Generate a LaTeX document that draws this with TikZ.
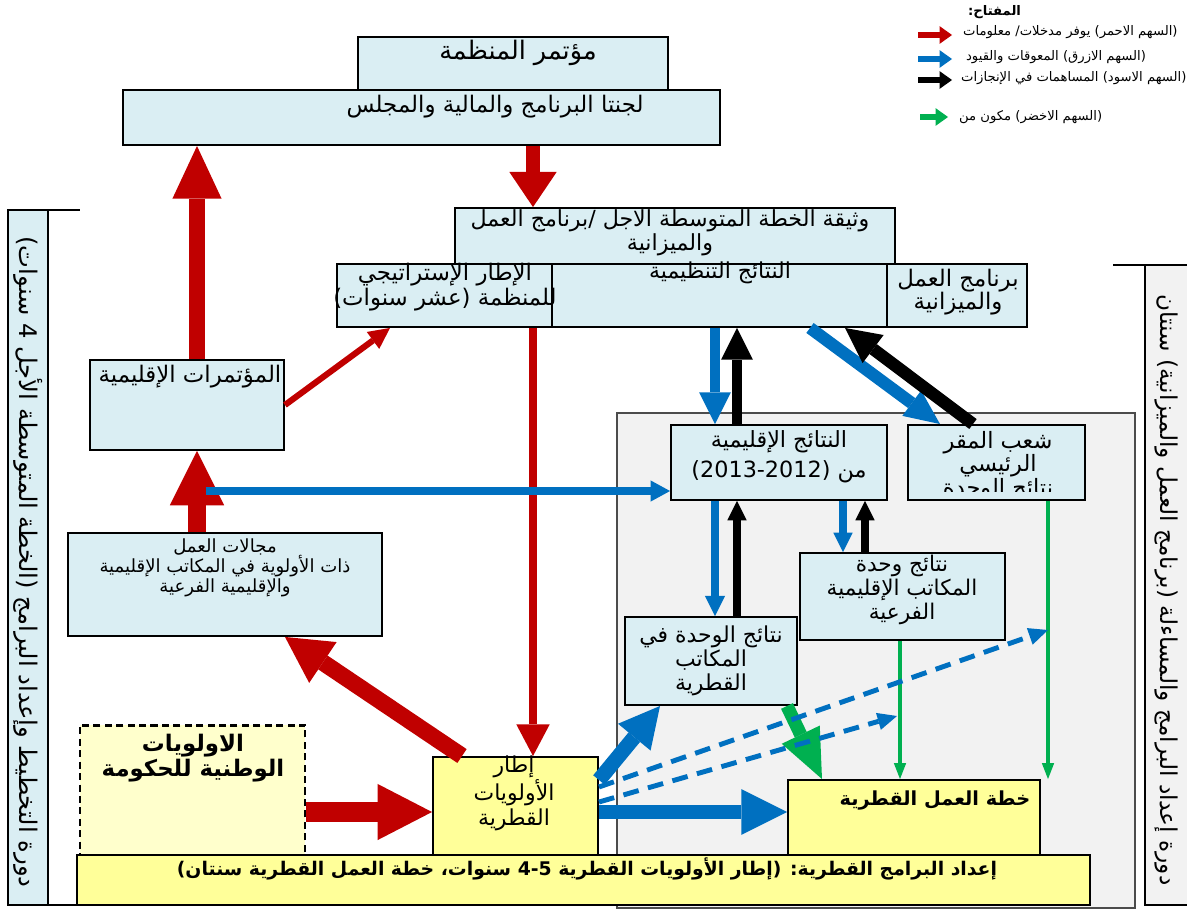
\documentclass[tikz,border=0pt]{standalone}
\usepackage{fontspec}
\setmainfont{DejaVu Sans}[Script=Arabic]
\TeXXeTstate=1
\usetikzlibrary{arrows.meta,fit}
\definecolor{boxblue}{HTML}{DAEEF3}
\definecolor{panelgray}{HTML}{F2F2F2}
\definecolor{boxyellow}{HTML}{FFFF99}
\definecolor{paleyellow}{HTML}{FFFFCC}
\definecolor{faored}{HTML}{C00000}
\definecolor{faoblue}{HTML}{0070C0}
\definecolor{faogreen}{HTML}{00B050}
\newcommand{\rtl}[1]{\beginR #1\endR}

\begin{document}
\begin{tikzpicture}[x=0.02cm, y=-0.02cm,
  box/.style={draw, line width=1.1pt, fill=boxblue, inner sep=0pt},
  ybox/.style={draw, line width=1.1pt, fill=boxyellow, inner sep=0pt},
  txt/.style={align=center, inner sep=1pt, font=\fontsize{12.5}{14}\selectfont},
  legtxt/.style={anchor=west, inner sep=1pt, font=\fontsize{7.5}{9}\selectfont},
  arr/.style n args={3}{line width=#1, -{Triangle[length=#2, width=#3, line width=0pt]}}]
  \useasboundingbox (0,0) rectangle (1187,910);

  % side bands
  \node[draw, line width=1pt, fill=panelgray, inner sep=0pt, fit={(1145,265) (1195,905)}] (rband) {};
  \draw[line width=1pt] (1113,265) -- (1187,265);
  \node[draw, line width=1pt, fill=boxblue, inner sep=0pt, fit={(8,210) (48,905)}] (lband) {};
  \draw[line width=1pt] (8,210) -- (80,210);
  \draw[line width=1pt] (8,905) -- (80,905);
  \node[txt, rotate=-90, font=\fontsize{13.8}{15}\selectfont] (lband-t) at (28,562)
    {\rtl{دورة التخطيط وإعداد البرامج (الخطة المتوسطة الأجل 4 سنوات)}};
  \node[txt, rotate=-90, font=\fontsize{13.2}{15}\selectfont] (rband-t) at (1166,590)
    {\rtl{دورة إعداد البرامج والمساءلة (برنامج العمل والميزانية) سنتان}};

  % grey panel
  \node[draw=black!70, line width=0.8pt, fill=panelgray, inner sep=0pt, fit={(617,413) (1135,908)}] (panel) {};

  % top boxes
  \node[box, fit={(358,37) (668,98)}] (conf) {};
  \node[box, fit={(123,90) (720,145)}] (com) {};
  \node[txt, font=\fontsize{14.5}{16}\selectfont] (conf-t) at (518,53) {\rtl{مؤتمر المنظمة}};
  \node[txt, font=\fontsize{13}{15}\selectfont] (com-t) at (495,107) {\rtl{لجنتا البرنامج والمالية والمجلس}};

  \node[box, fit={(455,208) (895,265)}] (mtp) {};
  \node[txt, font=\fontsize{12.6}{13.5}\selectfont] (mtp-t) at (670,233)
    {\rtl{وثيقة الخطة المتوسطة الاجل /برنامج العمل}\\\rtl{والميزانية}};
  \node[box, fit={(337,264) (552,327)}] (sf) {};
  \node[box, fit={(552,264) (887,327)}] (orgres) {};
  \node[box, fit={(887,264) (1027,327)}] (pwb) {};
  \node[txt, font=\fontsize{13}{14}\selectfont] (sf-t) at (445,287) {\rtl{الإطار الإستراتيجي}\\\rtl{للمنظمة (عشر سنوات)}};
  \node[txt] (orgres-t) at (720,273) {\rtl{النتائج التنظيمية}};
  \node[txt, font=\fontsize{13}{13.5}\selectfont] (pwb-t) at (958,292) {\rtl{برنامج العمل}\\\rtl{والميزانية}};

  % left column
  \node[box, fit={(90,360) (284,450)}] (rc) {};
  \node[txt, font=\fontsize{13}{15}\selectfont] (rc-t) at (190,377) {\rtl{المؤتمرات الإقليمية}};
  \node[box, fit={(68,533) (382,636)}] (pa) {};
  \node[txt, font=\fontsize{10.3}{11.5}\selectfont] (pa-t) at (225,568)
    {\rtl{مجالات العمل}\\\rtl{ذات الأولوية في المكاتب الإقليمية}\\\rtl{والإقليمية الفرعية}};

  % results inside the panel
  \node[box, fit={(671,425) (887,500)}] (regres) {};
  \node[txt, font=\fontsize{12.7}{17}\selectfont] (regres-t) at (779,457) {\rtl{النتائج الإقليمية}\\\rtl{من \beginL(2013-2012)\endL}};
  \node[box, fit={(908,425) (1085,500)}] (hq) {};
  \begin{scope}
    \clip (908,425) rectangle (1085,491);
    \node[txt, font=\fontsize{12.8}{13.5}\selectfont] (hq-t) at (998,466) {\rtl{شعب المقر}\\\rtl{الرئيسي}\\\rtl{نتائج الوحدة}};
  \end{scope}
  \node[box, fit={(800,553) (1005,640)}] (sro) {};
  \node[txt, font=\fontsize{12.3}{13.5}\selectfont] (sro-t) at (902,590) {\rtl{نتائج وحدة}\\\rtl{المكاتب الإقليمية}\\\rtl{الفرعية}};
  \node[box, fit={(625,617) (797,705)}] (co) {};
  \node[txt, font=\fontsize{12.5}{13.5}\selectfont] (co-t) at (711,661) {\rtl{نتائج الوحدة في}\\\rtl{المكاتب}\\\rtl{القطرية}};

  % country level
  \node[draw, dashed, dash pattern=on 4pt off 2.5pt, line width=1.7pt, fill=paleyellow, inner sep=0pt,
        fit={(80,725) (305,855)}] (np) {};
  \node[txt, font=\bfseries\fontsize{13}{14.5}\selectfont] (np-t) at (193,758) {\rtl{الاولويات}\\\rtl{الوطنية للحكومة}};
  \node[ybox, fit={(433,757) (598,855)}] (cpf) {};
  \node[txt, font=\fontsize{12.5}{14}\selectfont] (cpf-t) at (514,793) {\rtl{إطار}\\\rtl{الأولويات}\\\rtl{القطرية}};
  \node[ybox, fit={(788,780) (1040,855)}] (cwp) {};
  \node[txt, font=\bfseries\fontsize{11}{14}\selectfont] (cwp-t) at (935,801) {\rtl{خطة العمل القطرية}};
  \node[ybox, fit={(77,855) (1090,905)}] (band) {};
  \node[txt, font=\bfseries\fontsize{10.7}{14}\selectfont] (band-t) at (587,869)
    {\rtl{إعداد البرامج القطرية: (إطار الأولويات القطرية \beginL4-5\endL{} سنوات، خطة العمل القطرية سنتان)}};

  \coordinate (bstart) at (206,491);
  \coordinate (g1) at (1048,630);
  \coordinate (g2) at (897,716);

  % red arrows
  \draw[faored, arr={7.5pt}{20pt}{27pt}] (com.south -| 533,0) -- (mtp.north -| 533,0);
  \draw[faored, arr={9pt}{30pt}{28pt}] (rc.north -| 197,0) -- (com.south -| 197,0);
  \draw[faored, arr={10pt}{31pt}{31pt}] (pa.north -| 197,0) -- (rc.south -| 197,0);
  \draw[faored, arr={3.5pt}{12pt}{12pt}] (rc.east) -- (sf.south -| 390,0);
  \draw[faored, arr={4pt}{18pt}{19pt}] (sf.south -| 533,0) -- (cpf.north -| 533,0);
  \draw[faored, arr={9.5pt}{26pt}{28pt}] (cpf.north -| 462,0) -- (pa.south -| 285,0);
  \draw[faored, arr={11pt}{31pt}{32pt}] (np.east |- 0,812) -- (cpf.west |- 0,812);

  % blue and black arrows
  \draw[faoblue, arr={4pt}{11pt}{12pt}] (bstart) -- (regres.west |- bstart);
  \draw[faoblue, arr={5.7pt}{18pt}{18pt}] (orgres.south -| 715,0) -- (regres.north -| 715,0);
  \draw[arr={5.7pt}{18pt}{18pt}] (regres.north -| 737,0) -- (orgres.south -| 737,0);
  \draw[faoblue, arr={7pt}{20pt}{18pt}] (orgres.south -| 810,0) -- (hq.north -| 940,0);
  \draw[arr={7pt}{20pt}{20pt}] (hq.north -| 973,0) -- (orgres.south -| 845,0);
  \draw[faoblue, arr={4pt}{11.5pt}{11.5pt}] (regres.south -| 715,0) -- (co.north -| 715,0);
  \draw[arr={4.2pt}{11pt}{11pt}] (co.north -| 737,0) -- (regres.south -| 737,0);
  \draw[faoblue, arr={4pt}{11pt}{11pt}] (regres.south -| 843,0) -- (sro.north -| 843,0);
  \draw[arr={4pt}{11pt}{11pt}] (sro.north -| 865,0) -- (regres.south -| 865,0);

  % green arrows
  \draw[faogreen, arr={2pt}{9pt}{7pt}] (hq.south -| 1048,0) -- (cwp.north -| 1048,0);
  \draw[faogreen, arr={2pt}{9pt}{7pt}] (sro.south -| 900,0) -- (cwp.north -| 900,0);
  \draw[faogreen, arr={7.5pt}{28pt}{24pt}] (co.south -| 787,0) -- (cwp.north -| 822,0);

  \draw[faoblue, arr={8.5pt}{23pt}{24pt}] (cpf.east |- 0,780) -- (co.south -| 660,0);
  \draw[faoblue, arr={7.5pt}{26pt}{26pt}] (cpf.east |- 0,812) -- (cwp.west |- 0,812);
  \draw[faoblue, dash pattern=on 9pt off 5.5pt, arr={2.8pt}{11pt}{10pt}] (cpf.east |- 0,787) -- (g1);
  \draw[faoblue, dash pattern=on 9pt off 5.5pt, arr={2.8pt}{11pt}{10pt}] (cpf.east |- 0,802) -- (g2);

  % key
  \node[legtxt, font=\bfseries\fontsize{7.5}{9}\selectfont] (key-t) at (966,12) {\rtl{المفتاح:}};
  \node[legtxt] (key-red) at (961,32) {\rtl{(السهم الاحمر) يوفر مدخلات/ معلومات}};
  \node[legtxt] (key-blue) at (964,57) {\rtl{(السهم الازرق) المعوقات والقيود}};
  \node[legtxt] (key-black) at (959,78) {\rtl{(السهم الاسود) المساهمات في الإنجازات}};
  \node[legtxt] (key-green) at (957,117) {\rtl{(السهم الاخضر) مكون من}};
  \draw[faored, arr={3.5pt}{7pt}{10pt}] (918,35) -- (952,35);
  \draw[faoblue, arr={3.5pt}{7pt}{10pt}] (918,59) -- (952,59);
  \draw[arr={3.5pt}{7pt}{10pt}] (918,80) -- (952,80);
  \draw[faogreen, arr={3.5pt}{7pt}{10pt}] (920,117) -- (948,117);
\end{tikzpicture}
\end{document}
